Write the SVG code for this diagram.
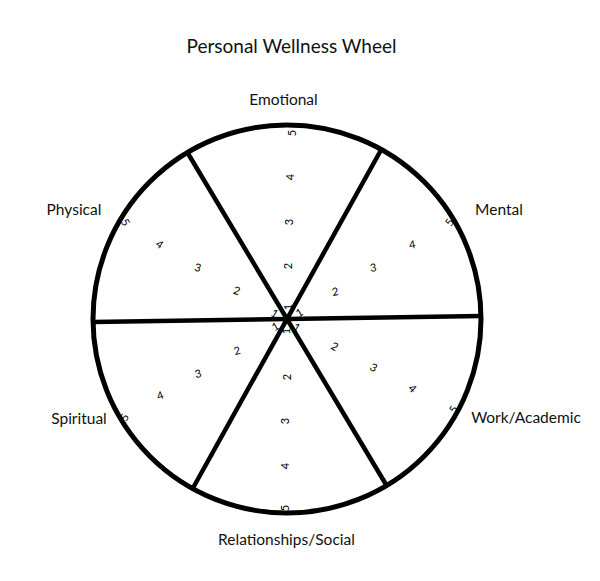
<svg xmlns="http://www.w3.org/2000/svg" width="600" height="581" viewBox="0 0 600 581">
<style>
.lbl{font-family:Lato,"Liberation Sans",sans-serif;font-size:15.5px;fill:#111;text-anchor:middle}
.ttl{font-family:Lato,"Liberation Sans",sans-serif;font-size:19px;fill:#111;text-anchor:middle}
.d{font-family:Lato,"Liberation Sans",sans-serif;font-size:11px;fill:#000;text-anchor:middle;dominant-baseline:central}
.ln{stroke:#000;stroke-width:4.5;fill:none}
</style>
<rect width="600" height="581" fill="#fff"/>
<text class="ttl" x="291.5" y="53">Personal Wellness Wheel</text>
<g id="wheel">
<circle cx="287" cy="319" r="194" stroke="#000" stroke-width="5" fill="none"/>
</g>
<g id="connectors">
<line class="ln" x1="93" y1="322" x2="481" y2="316"/>
<line class="ln" x1="381.3" y1="149.5" x2="192.7" y2="488.5"/>
<line class="ln" x1="187.4" y1="152.5" x2="386.6" y2="485.5"/>
</g>
<g id="emotional">
<text class="lbl" x="283.5" y="105">Emotional</text>
<text class="d" x="291" y="133" transform="rotate(-90 291 133)">5</text>
<text class="d" x="289" y="177" transform="rotate(-90 289 177)">4</text>
<text class="d" x="288" y="222" transform="rotate(-90 288 222)">3</text>
<text class="d" x="287" y="266" transform="rotate(-90 287 266)">2</text>
<text class="d" x="287" y="307" transform="rotate(-90 287 307)">1</text>
</g>
<g id="mental">
<text class="lbl" x="499" y="215">Mental</text>
<text class="d" x="449" y="222" transform="rotate(-60 449 222)">5</text>
<text class="d" x="412" y="244" transform="rotate(-10 412 244)">4</text>
<text class="d" x="373" y="267" transform="rotate(-10 373 267)">3</text>
<text class="d" x="335" y="291" transform="rotate(-10 335 291)">2</text>
<text class="d" x="299" y="312" transform="rotate(-30 299 312)">1</text>
</g>
<g id="work">
<text class="lbl" x="526" y="423">Work/Academic</text>
<text class="d" x="453" y="409" transform="rotate(-60 453 409)">5</text>
<text class="d" x="413" y="388" transform="rotate(45 413 388)">4</text>
<text class="d" x="374" y="367" transform="rotate(30 374 367)">3</text>
<text class="d" x="335" y="346" transform="rotate(30 335 346)">2</text>
<text class="d" x="297" y="327" transform="rotate(30 297 327)">1</text>
</g>
<g id="relationships">
<text class="lbl" x="286.5" y="545">Relationships/Social</text>
<text class="d" x="284" y="508" transform="rotate(-90 284 508)">5</text>
<text class="d" x="284" y="466" transform="rotate(-90 284 466)">4</text>
<text class="d" x="284" y="421" transform="rotate(-90 284 421)">3</text>
<text class="d" x="286" y="377" transform="rotate(-90 286 377)">2</text>
<text class="d" x="285" y="331" transform="rotate(-90 285 331)">1</text>
</g>
<g id="spiritual">
<text class="lbl" x="79" y="424">Spiritual</text>
<text class="d" x="124" y="417" transform="rotate(-60 124 417)">5</text>
<text class="d" x="160" y="395" transform="rotate(-20 160 395)">4</text>
<text class="d" x="198" y="373" transform="rotate(-15 198 373)">3</text>
<text class="d" x="237" y="350" transform="rotate(-15 237 350)">2</text>
<text class="d" x="275" y="326" transform="rotate(-30 275 326)">1</text>
</g>
<g id="physical">
<text class="lbl" x="74" y="215">Physical</text>
<text class="d" x="126" y="222" transform="rotate(60 126 222)">5</text>
<text class="d" x="160" y="244" transform="rotate(35 160 244)">4</text>
<text class="d" x="198" y="267" transform="rotate(15 198 267)">3</text>
<text class="d" x="237" y="290" transform="rotate(20 237 290)">2</text>
<text class="d" x="275" y="313" transform="rotate(30 275 313)">1</text>
</g>
</svg>
